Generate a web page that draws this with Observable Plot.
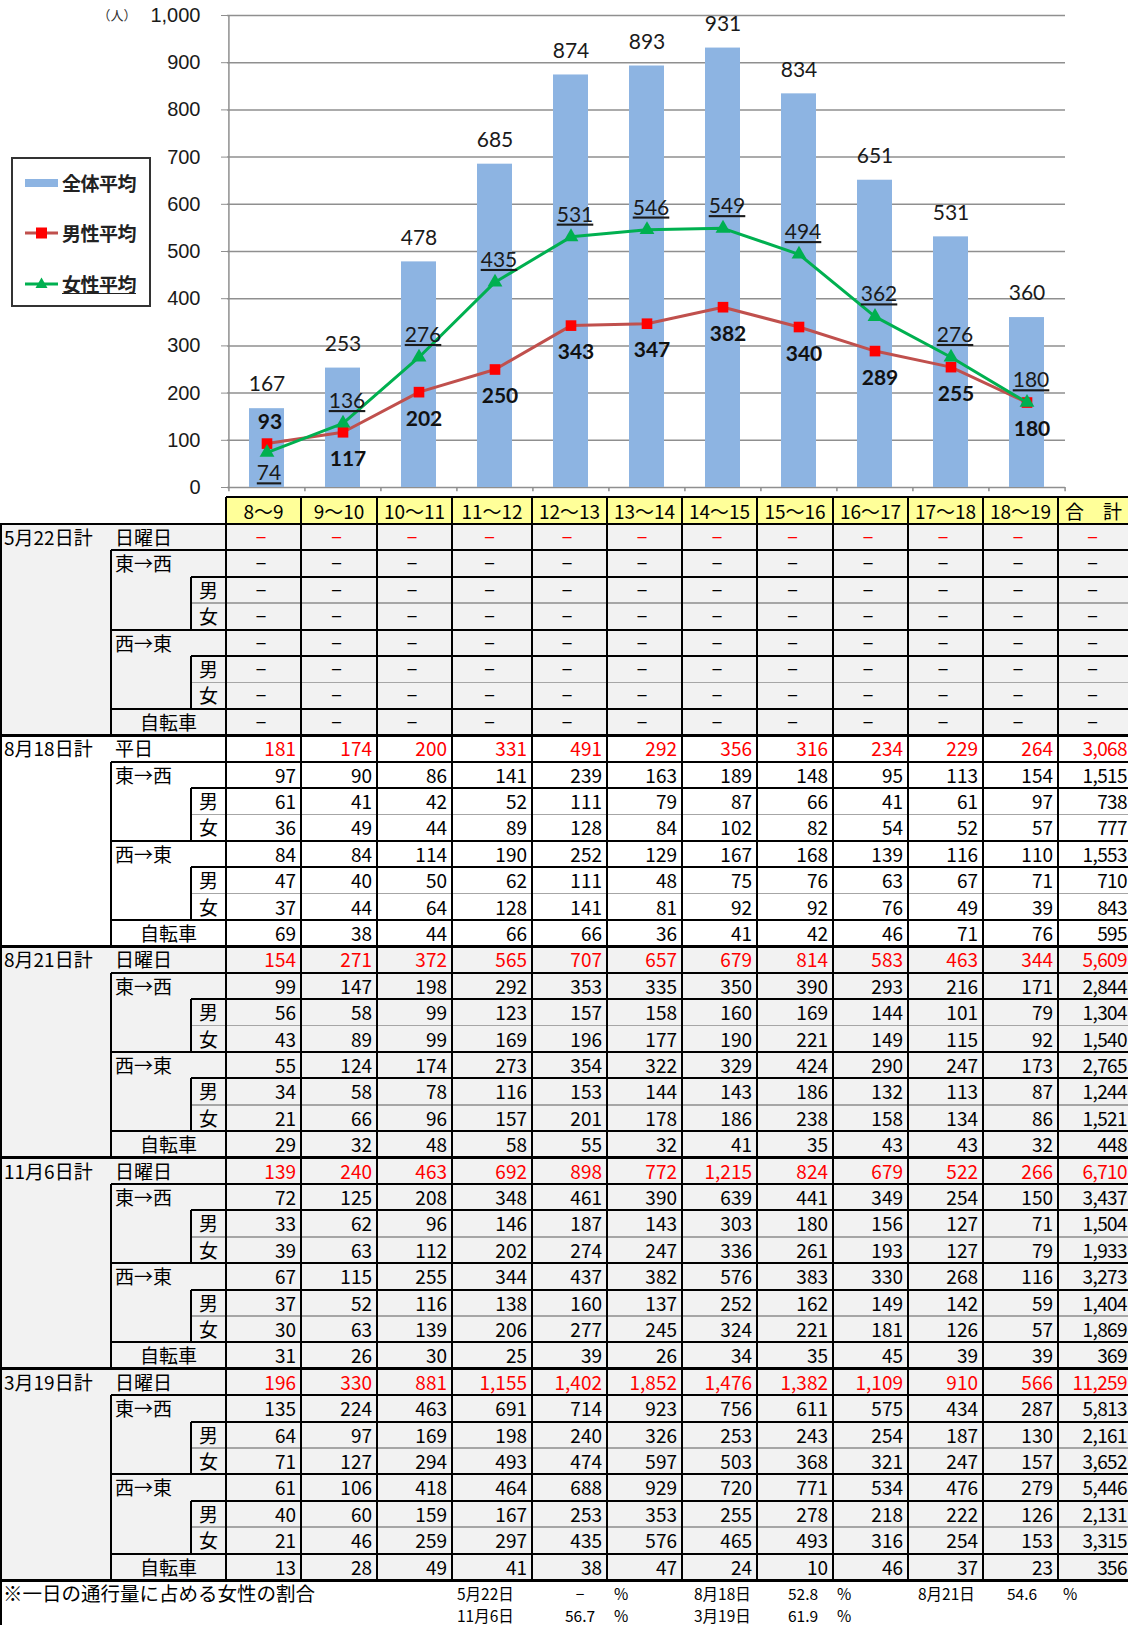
<!DOCTYPE html>
<html><head><meta charset="utf-8">
<script src="https://cdn.jsdelivr.net/npm/d3@7"></script>
<script src="https://cdn.jsdelivr.net/npm/@observablehq/plot@0.6"></script>
<style>
html,body{margin:0;padding:0;background:#fff;}
body{width:1128px;height:1625px;overflow:hidden;position:relative;font-family:"Noto Sans CJK JP",sans-serif;}
#chart{position:absolute;left:0;top:0;}
#legend{position:absolute;left:11px;top:157px;width:136px;height:146px;border:2px solid #333;background:#fff;}
#legend .item{position:absolute;left:0;height:24px;width:136px;}
#legend svg{position:absolute;left:10px;top:4px;}
#legend span{position:absolute;left:49px;top:0;line-height:24px;font-size:19px;font-weight:700;color:#222;white-space:nowrap;letter-spacing:-0.5px;}
#table{position:absolute;left:0;top:0;width:1128px;height:1625px;overflow:hidden;}
#table div{position:absolute;box-sizing:border-box;}
.t{white-space:nowrap;font-size:19px;color:#000;}
[aria-description="female-label"] text{text-decoration:underline;}
</style></head><body>
<div id="chart"></div>
<div id="table"></div>
<div id="legend"></div>
<script>
// ---------- chart data ----------
const hours = ["8～9","9～10","10～11","11～12","12～13","13～14","14～15","15～16","16～17","17～18","18～19"];
const totalAvg  = [167,253,478,685,874,893,931,834,651,531,360];
const maleAvg   = [93,117,202,250,343,347,382,340,289,255,180];
const femaleAvg = [74,136,276,435,531,546,549,494,362,276,180];
const yTicks = [0,100,200,300,400,500,600,700,800,900,1000];
const seriesNames = ["全体平均","男性平均","女性平均"];
const yUnit = "（人）";

// ---------- table data ----------
const tableHeader = [...hours, "合　計"];
const surveyDates = ["5月22日計","8月18日計","8月21日計","11月6日計","3月19日計"];
const dayTypes = ["日曜日","平日","日曜日","日曜日","日曜日"];
const rowLabels = [null,"東→西","男","女","西→東","男","女","自転車"];
const may22 = null; // 未調査（－）
const aug18 = [
  [181,174,200,331,491,292,356,316,234,229,264,3068],
  [97,90,86,141,239,163,189,148,95,113,154,1515],
  [61,41,42,52,111,79,87,66,41,61,97,738],
  [36,49,44,89,128,84,102,82,54,52,57,777],
  [84,84,114,190,252,129,167,168,139,116,110,1553],
  [47,40,50,62,111,48,75,76,63,67,71,710],
  [37,44,64,128,141,81,92,92,76,49,39,843],
  [69,38,44,66,66,36,41,42,46,71,76,595]
];
const aug21 = [
  [154,271,372,565,707,657,679,814,583,463,344,5609],
  [99,147,198,292,353,335,350,390,293,216,171,2844],
  [56,58,99,123,157,158,160,169,144,101,79,1304],
  [43,89,99,169,196,177,190,221,149,115,92,1540],
  [55,124,174,273,354,322,329,424,290,247,173,2765],
  [34,58,78,116,153,144,143,186,132,113,87,1244],
  [21,66,96,157,201,178,186,238,158,134,86,1521],
  [29,32,48,58,55,32,41,35,43,43,32,448]
];
const nov6 = [
  [139,240,463,692,898,772,1215,824,679,522,266,6710],
  [72,125,208,348,461,390,639,441,349,254,150,3437],
  [33,62,96,146,187,143,303,180,156,127,71,1504],
  [39,63,112,202,274,247,336,261,193,127,79,1933],
  [67,115,255,344,437,382,576,383,330,268,116,3273],
  [37,52,116,138,160,137,252,162,149,142,59,1404],
  [30,63,139,206,277,245,324,221,181,126,57,1869],
  [31,26,30,25,39,26,34,35,45,39,39,369]
];
const mar19 = [
  [196,330,881,1155,1402,1852,1476,1382,1109,910,566,11259],
  [135,224,463,691,714,923,756,611,575,434,287,5813],
  [64,97,169,198,240,326,253,243,254,187,130,2161],
  [71,127,294,493,474,597,503,368,321,247,157,3652],
  [61,106,418,464,688,929,720,771,534,476,279,5446],
  [40,60,159,167,253,353,255,278,218,222,126,2131],
  [21,46,259,297,435,576,465,493,316,254,153,3315],
  [13,28,49,41,38,47,24,10,46,37,23,356]
];
const blocks = [may22, aug18, aug21, nov6, mar19];
const femaleShareNote = "※一日の通行量に占める女性の割合";
const femaleShareDates = ["5月22日","8月18日","8月21日","11月6日","3月19日"];
const femaleShareValues = ["−","52.8","54.6","56.7","61.9"];

// ---------- chart ----------
const chartData = hours.map((h, i) => ({hour: h, total: totalAvg[i], male: maleAvg[i], female: femaleAvg[i]}));
const plotLeft = 227, plotRight = 1065;
const step = (plotRight - plotLeft) / hours.length;
const grid = "#8f8f8f";
const chart = Plot.plot({
  width: 1128, height: 497,
  marginLeft: plotLeft, marginRight: 1128 - plotRight, marginTop: 15, marginBottom: 10,
  x: {type: "band", domain: hours, paddingInner: 0.54, paddingOuter: 0.27, axis: null},
  y: {domain: [0, 1000], axis: null},
  marks: [
    Plot.ruleY(yTicks, {stroke: grid, strokeWidth: 1.5}),
    Plot.axisY({ticks: yTicks, tickSize: 6, tickPadding: 21, tickFormat: d3.format(","), stroke: grid, fill: "#1a1a1a", fontSize: 20, fontFamily: "Liberation Sans"}),
    Plot.text([1000], {y: d => d, text: () => yUnit, frameAnchor: "left", dx: -130, textAnchor: "start", fontSize: 13, fill: "#333", fontFamily: "Noto Sans CJK JP"}),
    Plot.ruleX([hours[0]], {x: d => d, dx: -step / 2, y1: 0, y2: 1000, stroke: grid, strokeWidth: 1.5}),
    Plot.ruleX(hours, {x: d => d, dx: -step / 2, y1: 0, y2: -9, stroke: grid, strokeWidth: 1.5}),
    Plot.ruleX([hours[hours.length - 1]], {x: d => d, dx: step / 2, y1: 0, y2: -9, stroke: grid, strokeWidth: 1.5}),
    Plot.barY(chartData, {x: "hour", y: "total", fill: "#8db4e2"}),
    Plot.line(chartData, {x: "hour", y: "male", stroke: "#c0504d", strokeWidth: 3}),
    Plot.dot(chartData, {x: "hour", y: "male", symbol: "square", r: 6, fill: "#ff0000", stroke: "none"}),
    Plot.line(chartData, {x: "hour", y: "female", stroke: "#00b050", strokeWidth: 3}),
    Plot.dot(chartData, {x: "hour", y: "female", symbol: "triangle", r: 5.5, fill: "#00b050", stroke: "none"}),
    Plot.text(chartData, {x: "hour", y: "total", text: "total", dy: -24, fontSize: 21, fontFamily: "Lato", fill: "#1a1a1a"}),
    Plot.text(chartData, {filter: d => d.male > d.female, x: "hour", y: "male", text: "male", dx: 3, dy: -21, fontSize: 21, fontWeight: 700, fontFamily: "Lato", fill: "#111"}),
    Plot.text(chartData, {filter: d => d.male <= d.female, x: "hour", y: "male", text: "male", dx: 5, dy: 27, fontSize: 21, fontWeight: 700, fontFamily: "Lato", fill: "#111"}),
    Plot.text(chartData, {filter: d => d.female >= d.male, x: "hour", y: "female", text: "female", dx: 4, dy: -22, fontSize: 21, fontFamily: "Lato", fill: "#1a1a1a", ariaDescription: "female-label"}),
    Plot.text(chartData, {filter: d => d.female < d.male, x: "hour", y: "female", text: "female", dx: 2, dy: 21, fontSize: 21, fontFamily: "Lato", fill: "#1a1a1a", ariaDescription: "female-label"})
  ]
});
document.getElementById("chart").appendChild(chart);

// ---------- legend ----------
const legend = document.getElementById("legend");
const legendSwatches = [
  `<rect x="2" y="8" width="33" height="8" fill="#8db4e2"/>`,
  `<line x1="2" y1="12" x2="35" y2="12" stroke="#c0504d" stroke-width="3"/><rect x="13" y="6.5" width="11" height="11" fill="#ff0000"/>`,
  `<line x1="2" y1="12" x2="35" y2="12" stroke="#00b050" stroke-width="3"/><path d="M18.5,5.5 L24.5,16 L12.5,16 Z" fill="#00b050"/>`
];
const legendTops = [12, 62, 113];
seriesNames.forEach((name, i) => {
  const it = document.createElement("div");
  it.className = "item";
  it.style.top = legendTops[i] + "px";
  it.innerHTML = `<svg width="38" height="24" style="top:0">${legendSwatches[i]}</svg><span style="${i === 2 ? "text-decoration:underline;" : ""}">${name}</span>`;
  legend.appendChild(it);
});

// ---------- table ----------
const T = document.getElementById("table");
function add(left, top, w, h, css, text) {
  const d = document.createElement("div");
  d.style.left = left + "px"; d.style.top = top + "px";
  d.style.width = w + "px"; d.style.height = h + "px";
  if (css) d.style.cssText += css;
  if (text != null) d.textContent = text;
  T.appendChild(d);
  return d;
}
function hline(x1, x2, y, t, color) { add(x1, y - t / 2, x2 - x1, t, `background:${color || "#000"};`); }
function vline(x, y1, y2, t, color) { add(x - t / 2, y1, t, y2 - y1, `background:${color || "#000"};`); }

const colX = [226, 301, 377, 452, 532, 607, 682, 757, 833, 908, 983, 1058, 1129];
const xA = 0, xB = 111, xC = 191;
const headerTop = 497, rowsTop = 524, rh = 26.4, tableRight = 1128;
const footerTop = rowsTop + 40 * rh;
const shaded = new Set([0, 2, 3, 4]);
const fmt = d3.format(",");

// backgrounds
tableHeader.forEach((h, c) => add(colX[c], headerTop, colX[c + 1] - colX[c], rowsTop - headerTop, "background:#ffff99;"));
blocks.forEach((blk, b) => {
  if (shaded.has(b)) add(0, rowsTop + b * 8 * rh, tableRight, 8 * rh, "background:#f2f2f2;");
});

// header text
tableHeader.forEach((h, c) => add(colX[c], headerTop, colX[c + 1] - colX[c], rowsTop - headerTop,
  `text-align:center;line-height:${rowsTop - headerTop}px;`, h).className = "t");

// block text
blocks.forEach((blk, b) => {
  const top = rowsTop + b * 8 * rh;
  const lab = (x, r, w, align, text) => {
    const d = add(x, top + r * rh, w, rh, `line-height:${rh}px;text-align:${align};`, text);
    d.className = "t";
  };
  lab(xA + 4, 0, 105, "left", surveyDates[b]);
  lab(xB + 4, 0, 110, "left", dayTypes[b]);
  rowLabels.forEach((l, r) => {
    if (l == null) return;
    if (l === "男" || l === "女") lab(xC, r, 226 - xC, "center", l);
    else if (l === "自転車") lab(xB, r, 226 - xB, "center", l);
    else lab(xB + 4, r, 100, "left", l);
  });
  for (let r = 0; r < 8; r++) {
    for (let c = 0; c < 12; c++) {
      const v = blk ? blk[r][c] : null;
      const color = r === 0 ? "#ff0000" : "#000";
      const last = c === 11;
      const d = add(colX[c], top + r * rh, colX[c + 1] - colX[c], rh,
        `line-height:${rh}px;text-align:${v == null ? "center" : "right"};padding-right:${last ? 2 : 5}px;color:${color};` + (last && v != null ? "letter-spacing:-0.6px;" : ""),
        v == null ? "−" : fmt(v));
      d.className = "t";
      d.style.color = color;
    }
  }
});

// grid lines
hline(226, tableRight, headerTop, 2);
for (let b = 0; b < 5; b++) {
  const top = rowsTop + b * 8 * rh;
  hline(0, tableRight, top, b === 0 ? 2 : 3);
  hline(xB, tableRight, top + rh, 2);
  hline(xC, tableRight, top + 2 * rh, 2);
  hline(xC, tableRight, top + 3 * rh, 1.5, "#a6a6a6");
  hline(xB, tableRight, top + 4 * rh, 2);
  hline(xC, tableRight, top + 5 * rh, 2);
  hline(xC, tableRight, top + 6 * rh, 1.5, "#a6a6a6");
  hline(xB, tableRight, top + 7 * rh, 2);
  vline(xB, top + rh, top + 8 * rh, 2);
  vline(xC, top + 2 * rh, top + 4 * rh, 2);
  vline(xC, top + 5 * rh, top + 7 * rh, 2);
}
hline(0, tableRight, footerTop, 3);
vline(1, rowsTop, 1625, 2);
colX.slice(0, 12).forEach(x => vline(x, headerTop, footerTop, 2));

// footer
add(3, footerTop + 2, 420, 22, "line-height:22px;font-size:19.5px;", femaleShareNote).className = "t";
const fDateX = [457, 694, 918], fValC = [580, 803, 1022], fPctX = [614, 837, 1063];
femaleShareDates.forEach((d, i) => {
  const col = i % 3, row = Math.floor(i / 3);
  const y = footerTop + 2 + row * 22;
  const css = "line-height:22px;font-size:15.5px;";
  add(fDateX[col], y, 90, 22, css, d).className = "t";
  add(fValC[col] - 30, y, 60, 22, css + "text-align:center;", femaleShareValues[i]).className = "t";
  add(fPctX[col], y, 30, 22, css, "%").className = "t";
});
</script>
</body></html>
